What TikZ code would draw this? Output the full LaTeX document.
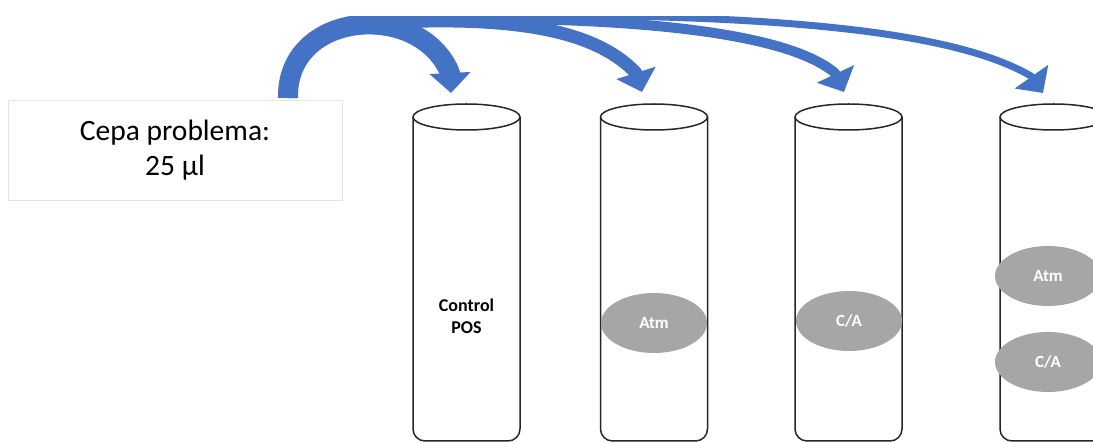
\documentclass[tikz,border=0pt]{standalone}
\usepackage{fontspec}
\setmainfont{Carlito}
\usetikzlibrary{arrows.meta,shapes.geometric}
\definecolor{feedblue}{HTML}{4472C4}
\definecolor{blobgray}{HTML}{A6A6A6}
\tikzset{
  tubeline/.style={line width=1.5pt,black!85},
  blob/.style={ellipse,fill=blobgray,minimum width=106pt,minimum height=60pt,
    text=white,font=\fontsize{17}{20}\selectfont\bfseries},
  feed/.style={feedblue,line join=round,-{Triangle[width=40pt,length=20pt]}},
}
\begin{document}
\begin{tikzpicture}[x=1pt,y=-1pt]
\useasboundingbox (0,0) rectangle (1093,443);
% tubes
\foreach \xc in {466.5,654,848.5,1053.5}{
  \draw[tubeline,rounded corners=12pt] (\xc-53.5,117) -- (\xc-53.5,441) -- (\xc+53.5,441) -- (\xc+53.5,117);
  \draw[tubeline] (\xc,117) ellipse (53.5pt and 13pt);
}
\node[font=\fontsize{18}{22}\selectfont\bfseries,align=center] (pos) at (466.5,316) {Control\\POS};
\node[blob] (atmb) at (654,323) {Atm};
\node[blob] (cab) at (849,321) {C/A};
\node[blob] (atmd) at (1048,276) {Atm};
\node[blob] (cad) at (1048,362) {C/A};
% arrows
\coordinate (src) at (288,98);
\coordinate (top2) at (395,22);
\coordinate (top3) at (405,19);
\coordinate (top4) at (415,16);
\coordinate (back1) at (450,73);
\coordinate (tip1) at (451,93);
\coordinate (back2) at (636,73);
\coordinate (tip2) at (642,92);
\coordinate (back3) at (835,73);
\coordinate (tip3) at (844,92);
\coordinate (back4) at (1031,76);
\coordinate (tip4) at (1043,93);
\begin{scope}
\clip (0,17) rectangle (1093,443);
\draw[feed,line width=7pt] (src) .. controls (289,45) and (330,18) .. (top4)
  .. controls (800,10) and (960,35) .. (back4) -- (tip4);
\draw[feed,line width=10pt] (src) .. controls (287,45) and (320,22) .. (top3)
  .. controls (650,15) and (790,35) .. (back3) -- (tip3);
\draw[feed,line width=13pt] (src) .. controls (288,45) and (315,26) .. (top2)
  .. controls (530,16) and (600,35) .. (back2) -- (tip2);
\draw[feed,line width=20pt] (src) .. controls (286,10) and (420,0) .. (back1) -- (tip1);
\end{scope}
% source box
\node[draw=gray!20,fill=white,minimum width=334pt,minimum height=100pt,align=center,
  font=\fontsize{29.5}{35}\selectfont] (cepa) at (175,150) {Cepa problema:\\25 µl};
\end{tikzpicture}
\end{document}
